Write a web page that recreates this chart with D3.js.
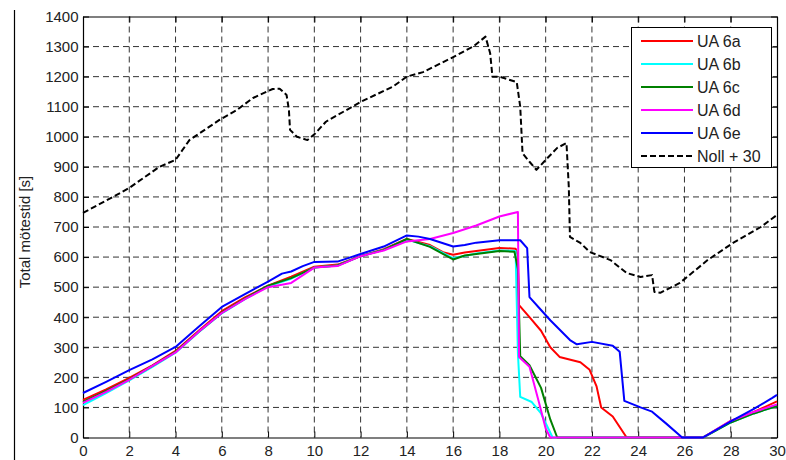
<!DOCTYPE html>
<html>
<head>
<meta charset="utf-8">
<script src="https://cdn.jsdelivr.net/npm/d3@7/dist/d3.min.js"></script>
<style>
  html, body { margin: 0; padding: 0; background: #fff; }
  svg { display: block; }
  text { font-family: "Liberation Sans", Arial, sans-serif; fill: #222; }
</style>
</head>
<body>
<svg id="chart" width="786" height="460"></svg>
<script>
// Total meeting time per scenario, [time, seconds]
const ua6a = [[0,125],[1,160],[2,198],[3,240],[4,288],[5,355],[6,420],[7,466],[8,505],[9,535],[10,568],[11,575],[12,603],[13,626],[14,660],[15,640],[15.6,615],[16,608],[16.5,615],[17,620],[18,630],[18.7,628],[18.8,605],[18.85,440],[19.3,400],[19.8,355],[20.2,300],[20.6,268],[21.5,250],[21.9,225],[22.2,170],[22.4,100],[22.9,70],[23.5,0],[26.8,0],[28,55],[29,85],[30,120]];
const ua6b = [[0,108],[1,148],[2,190],[3,235],[4,282],[5,350],[6,413],[7,460],[8,503],[9,528],[10,565],[11,572],[12,603],[13,624],[14,658],[15,636],[16,596],[17,612],[18,622],[18.7,620],[18.8,280],[18.9,135],[19.4,118],[19.8,80],[20.3,0],[26.8,0],[28,50],[29,80],[30,105]];
const ua6c = [[0,118],[1,155],[2,193],[3,238],[4,285],[5,352],[6,415],[7,462],[8,505],[9,530],[10,565],[11,572],[12,603],[13,624],[14,660],[15,634],[16,592],[16.5,605],[17,610],[18,620],[18.65,618],[18.8,560],[18.9,270],[19.3,240],[19.8,165],[20.2,60],[20.5,0],[26.8,0],[28,50],[29,80],[30,105]];
const ua6d = [[0,115],[1,152],[2,192],[3,238],[4,283],[5,352],[6,414],[7,460],[8,500],[9,514],[10,565],[11,570],[12,603],[13,622],[14,652],[15,660],[16,680],[17,705],[18,735],[18.8,750],[18.85,268],[19.3,235],[19.7,120],[20.0,30],[20.2,0],[26.8,0],[28,55],[29,85],[30,110]];
const ua6e = [[0,148],[1,185],[2,224],[3,260],[4,301],[5,368],[6,434],[7,477],[8,518],[8.6,545],[9,552],[9.5,570],[10,584],[11,585],[12,610],[13,635],[14,672],[14.5,668],[15,660],[16,635],[16.5,640],[17,648],[18,656],[18.9,656],[19.2,630],[19.3,467],[19.8,424],[20.2,390],[21.05,324],[21.35,310],[22,318],[22.9,305],[23.2,285],[23.4,122],[24.1,100],[24.6,86],[25.2,47],[25.9,0],[26.8,0],[28.1,58],[29,95],[29.8,132],[30,142]];
const noll30 = [[0,747],[1.3,800],[2,830],[3.3,900],[4,923],[4.6,989],[5.9,1056],[6.65,1089],[7.35,1129],[8.2,1159],[8.5,1160],[8.8,1139],[8.9,1090],[8.95,1023],[9.25,1000],[9.7,989],[10,1008],[10.5,1050],[12,1116],[13.4,1167],[14,1200],[14.7,1215],[16,1265],[16.9,1302],[17.4,1333],[17.6,1278],[17.7,1200],[18,1200],[18.75,1182],[18.9,1100],[19,945],[19.3,917],[19.6,890],[20,923],[20.5,963],[20.9,979],[21,833],[21.05,667],[21.5,647],[21.9,617],[22.8,590],[23.5,547],[24.1,534],[24.6,540],[24.7,484],[24.95,481],[25.8,514],[27,590],[28.1,647],[29.3,700],[30,740]];

const seriesNames = ["UA 6a", "UA 6b", "UA 6c", "UA 6d", "UA 6e", "Noll + 30"];
const xTicks = d3.range(0, 31, 2);
const yTicks = d3.range(0, 1401, 100);
const yLabel = "Total mötestid [s]";

const series = [
  { name: seriesNames[0], data: ua6a, color: "#ff0000", dash: null },
  { name: seriesNames[1], data: ua6b, color: "#00ffff", dash: null },
  { name: seriesNames[2], data: ua6c, color: "#008000", dash: null },
  { name: seriesNames[3], data: ua6d, color: "#ff00ff", dash: null },
  { name: seriesNames[4], data: ua6e, color: "#0000ff", dash: null },
  { name: seriesNames[5], data: noll30, color: "#000000", dash: "6,3" }
];

const svg = d3.select("#chart");
const L = 83, R = 777, T = 16.5, B = 437.5;

const x = d3.scaleLinear().domain([0, 30]).range([L, R]);
const y = d3.scaleLinear().domain([0, 1400]).range([B, T]);

// figure edge on the left
svg.append("line").attr("x1", 14.5).attr("x2", 14.5).attr("y1", 10).attr("y2", 460)
  .attr("stroke", "#000").attr("stroke-width", 1.2);

// dashed grid
const grid = svg.append("g").attr("stroke", "#333").attr("stroke-width", 1).attr("stroke-dasharray", "6,4");
grid.selectAll("line.v").data(xTicks.slice(1, -1)).join("line")
  .attr("x1", d => x(d)).attr("x2", d => x(d)).attr("y1", T).attr("y2", B);
grid.selectAll("line.h").data(yTicks.slice(1, -1)).join("line")
  .attr("x1", L).attr("x2", R).attr("y1", d => y(d)).attr("y2", d => y(d));

// axes with inward ticks on all four sides
const tl = 6;
const fmt = d3.format("d");
svg.append("g").attr("transform", `translate(0,${B})`)
  .call(d3.axisBottom(x).tickValues(xTicks).tickFormat(fmt).tickSizeInner(-tl).tickSizeOuter(0).tickPadding(8))
  .call(g => g.selectAll("text").attr("font-size", 15).attr("dy", "0.7em"));
svg.append("g").attr("transform", `translate(0,${T})`)
  .call(d3.axisTop(x).tickValues(xTicks).tickSizeInner(-tl).tickSizeOuter(0))
  .call(g => g.selectAll("text").remove());
svg.append("g").attr("transform", `translate(${L},0)`)
  .call(d3.axisLeft(y).tickValues(yTicks).tickFormat(fmt).tickSizeInner(-tl).tickSizeOuter(0).tickPadding(6))
  .call(g => g.selectAll("text").attr("font-size", 15).attr("dx", "0.1em"));
svg.append("g").attr("transform", `translate(${R},0)`)
  .call(d3.axisRight(y).tickValues(yTicks).tickSizeInner(-tl).tickSizeOuter(0))
  .call(g => g.selectAll("text").remove());
svg.selectAll(".domain").attr("stroke", "#000").attr("stroke-width", 1.2);
svg.selectAll(".tick line").attr("stroke", "#000");
svg.selectAll(".tick text").attr("fill", "#222").attr("font-family", "'Liberation Sans', Arial, sans-serif");

// y label
svg.append("text").attr("transform", `translate(30,232) rotate(-90)`)
  .attr("text-anchor", "middle").attr("font-size", 15).text(yLabel);

// series
const line = d3.line().x(d => x(d[0])).y(d => y(d[1]));
svg.append("g").selectAll("path").data(series).join("path")
  .attr("d", d => line(d.data))
  .attr("fill", "none")
  .attr("stroke", d => d.color)
  .attr("stroke-width", 2)
  .attr("stroke-dasharray", d => d.dash)
  .attr("stroke-linejoin", "round");

// legend
const lg = svg.append("g");
lg.append("rect").attr("x", 631.5).attr("y", 27.5).attr("width", 140).attr("height", 140)
  .attr("fill", "#fff").attr("stroke", "#000").attr("stroke-width", 1);
series.forEach((s, i) => {
  const yy = 41 + i * 23;
  lg.append("line").attr("x1", 641).attr("x2", 693).attr("y1", yy).attr("y2", yy)
    .attr("stroke", s.color).attr("stroke-width", 2).attr("stroke-dasharray", s.dash);
  lg.append("text").attr("x", 697).attr("y", yy).attr("dy", "0.36em")
    .attr("font-size", 16).text(s.name);
});
</script>
</body>
</html>
